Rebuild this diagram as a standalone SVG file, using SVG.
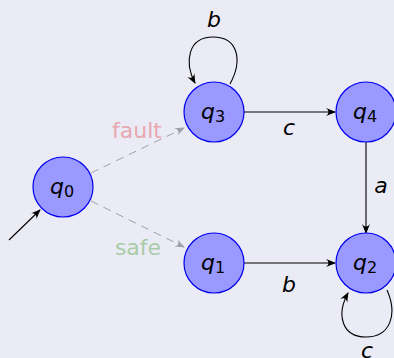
<svg xmlns="http://www.w3.org/2000/svg" width="394" height="358" viewBox="0 0 394 358">
  <defs>
    <marker id="arr" viewBox="0 0 10 10" refX="9" refY="5" markerWidth="10" markerHeight="10" markerUnits="userSpaceOnUse" orient="auto">
      <path d="M0,1 Q5,5 0,9 L10,5 Z" fill="#000"/>
    </marker>
    <marker id="arrg" viewBox="0 0 10 10" refX="9" refY="5" markerWidth="10" markerHeight="10" markerUnits="userSpaceOnUse" orient="auto">
      <path d="M0,1 Q5,5 0,9 L10,5 Z" fill="#a0a0a8"/>
    </marker>
  </defs>
  <style>
    .state circle { fill: #9999ff; stroke: #0000ee; stroke-width: 1.2; }
    .q { font-family: "DejaVu Sans", sans-serif; font-size: 22px; font-style: italic; fill: #000; }
    .q tspan { font-style: normal; font-size: 16px; }
    .edge { fill: none; stroke: #000; stroke-width: 1.1; marker-end: url(#arr); }
    .dash { fill: none; stroke: #a0a0a8; stroke-width: 1; stroke-dasharray: 8 6; marker-end: url(#arrg); }
    .lbl { font-family: "DejaVu Sans", sans-serif; font-size: 22px; font-style: italic; fill: #000; text-anchor: middle; }
    .cond { font-family: "DejaVu Sans", sans-serif; font-size: 22px; text-anchor: middle; }
  </style>
  <rect width="394" height="358" fill="#ebebf5"/>

  <g id="connectors">
    <path class="edge" d="M9,240 L40,210"/>
    <path class="dash" d="M91,173 L184,128"/>
    <path class="dash" d="M91,201 L184,247"/>
    <path class="edge" d="M244,112 L335,112"/>
    <path class="edge" d="M244,263 L335,263"/>
    <path class="edge" d="M366,142 L366,233"/>
    <path class="edge" d="M230,84 C243,60 238,37 213,37 C188,37 184,62 195,83"/>
    <path class="edge" d="M387,290 C398,315 390,337 366,337 C342,337 336,315 348,293"/>
    <text class="cond" x="137" y="138" fill="#e8a8b0">fault</text>
    <text class="cond" x="138" y="255" fill="#a8cca8">safe</text>
    <text class="lbl" x="214" y="27">b</text>
    <text class="lbl" x="289" y="135">c</text>
    <text class="lbl" x="289" y="292">b</text>
    <text class="lbl" x="381" y="193">a</text>
    <text class="lbl" x="367" y="358">c</text>
  </g>

  <g id="q0" class="state">
    <circle cx="63" cy="187" r="30"/>
    <text class="q" x="50" y="194">q<tspan dy="3">0</tspan></text>
  </g>
  <g id="q1" class="state">
    <circle cx="214" cy="263" r="30"/>
    <text class="q" x="201" y="270">q<tspan dy="3">1</tspan></text>
  </g>
  <g id="q2" class="state">
    <circle cx="366" cy="263" r="30"/>
    <text class="q" x="353" y="270">q<tspan dy="3">2</tspan></text>
  </g>
  <g id="q3" class="state">
    <circle cx="214" cy="112" r="30"/>
    <text class="q" x="201" y="119">q<tspan dy="3">3</tspan></text>
  </g>
  <g id="q4" class="state">
    <circle cx="366" cy="112" r="30"/>
    <text class="q" x="353" y="119">q<tspan dy="3">4</tspan></text>
  </g>
</svg>
